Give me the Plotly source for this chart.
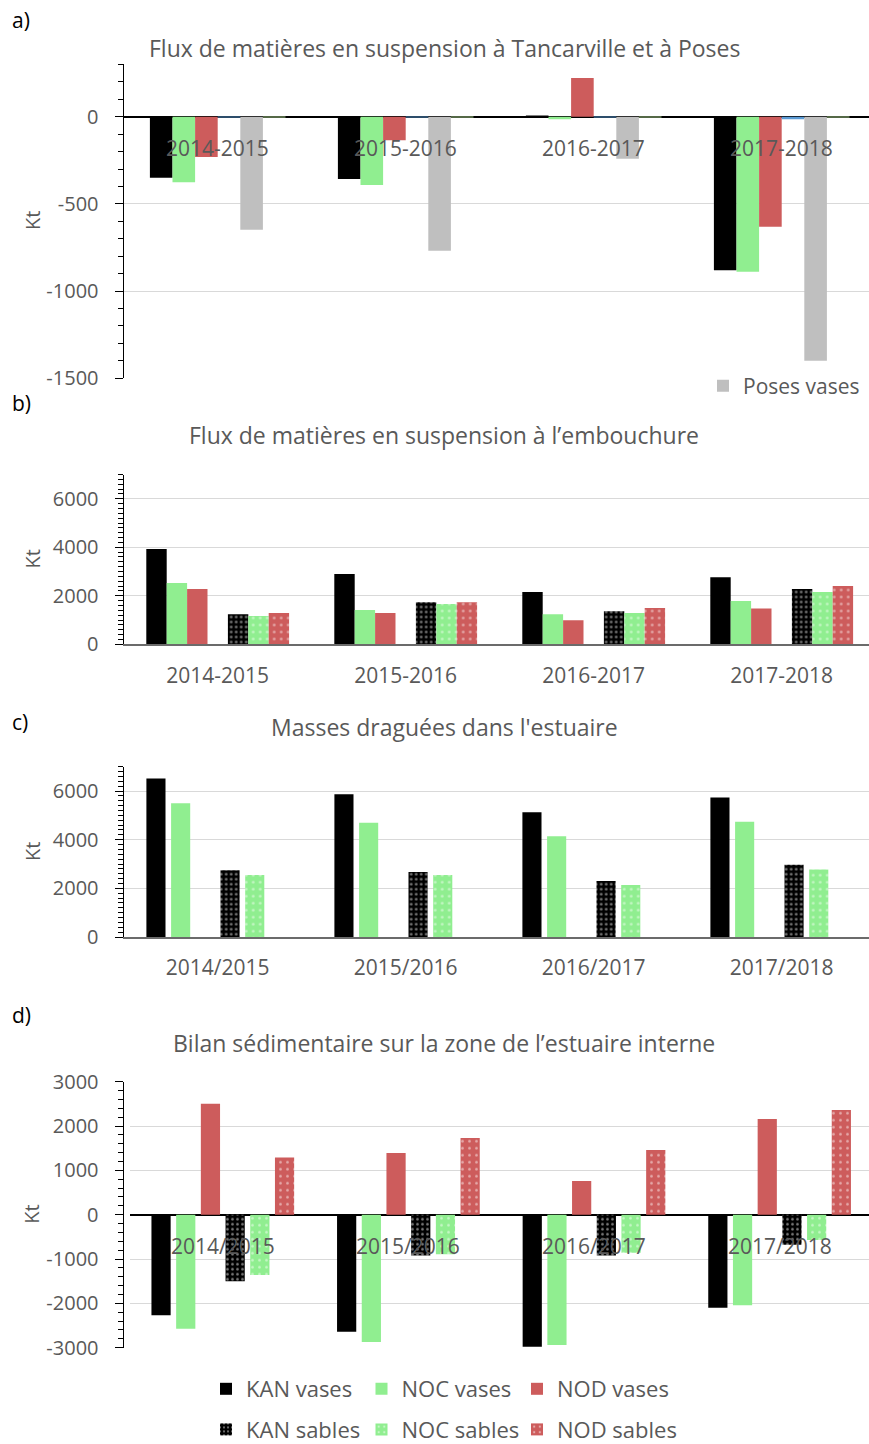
import plotly.graph_objects as go

W, H = 869, 1444
FONT = "Open Sans"
GREY_TXT = "#595959"

# ---------------- data (kt) ----------------
periods_dash = ["2014-2015", "2015-2016", "2016-2017", "2017-2018"]
periods_slash = ["2014/2015", "2015/2016", "2016/2017", "2017/2018"]

# a) Flux de MES à Tancarville et à Poses
a_kan_vases = [-350, -357, 4, -881]
a_noc_vases = [-376, -392, -15, -889]
a_nod_vases = [-231, -135, 222, -631]
a_serie4 = [-3, -3, -3, -15]
a_poses_vases = [-648, -768, -241, -1399]
a_serie6 = [-3, -3, -3, -3]
a_tickvals = [-1500, -1000, -500, 0]
a_ticktext = ["-1500", "-1000", "-500", "0"]

# b) Flux de MES à l'embouchure
b_kan_vases = [3930, 2900, 2160, 2760]
b_noc_vases = [2530, 1410, 1240, 1790]
b_nod_vases = [2280, 1290, 990, 1480]
b_kan_sables = [1240, 1730, 1360, 2280]
b_noc_sables = [1170, 1660, 1290, 2160]
b_nod_sables = [1290, 1730, 1500, 2400]

# c) Masses draguées
c_kan_vases = [6520, 5870, 5130, 5730]
c_noc_vases = [5500, 4700, 4140, 4740]
c_kan_sables = [2740, 2670, 2300, 2970]
c_noc_sables = [2550, 2550, 2140, 2770]

# d) Bilan sédimentaire estuaire interne
d_kan_vases = [-2270, -2640, -2980, -2100]
d_noc_vases = [-2570, -2870, -2940, -2040]
d_nod_vases = [2500, 1390, 760, 2160]
d_kan_sables = [-1500, -920, -920, -680]
d_noc_sables = [-1360, -890, -860, -570]
d_nod_sables = [1290, 1730, 1460, 2360]
d_tickvals = [-3000, -2000, -1000, 0, 1000, 2000, 3000]
d_ticktext = ["-3000", "-2000", "-1000", "0", "1000", "2000", "3000"]

# ---------------- styles ----------------
C_KAN = "#000000"
C_NOC = "#90EE90"
C_NOD = "#CD5C5C"
C_POSES = "#BFBFBF"
C_S4 = "#5B9BD5"
C_S6 = "#A9D18E"

PAT_KAN = (5, 0.22)
PAT_LIGHT = (7, 0.12)


def py(px):
    """pixel row -> paper fraction"""
    return 1 - px / H


def px_x(px):
    return px / W


def bar(xa, ya, cats, vals, name, color, slot, nslots, pitch, width,
        pattern=None, legend="legend", showlegend=False):
    offset = -nslots * pitch / 2 + slot * pitch + (pitch - width) / 2
    marker = dict(color=color, line=dict(width=0))
    if pattern:
        marker["pattern"] = dict(shape=".", fgcolor="white", fillmode="overlay",
                                 size=pattern[0], solidity=pattern[1])
    return go.Bar(x=cats, y=vals, name=name, xaxis=xa, yaxis=ya,
                  offset=offset, width=width, marker=marker,
                  showlegend=showlegend, legend=legend,
                  legendgroup=(name if showlegend else None), hoverinfo="skip")


fig = go.Figure()

# panel a: 6 slots, no gaps
pa = 22.6 / 188
for i, (vals, name, col) in enumerate([
        (a_kan_vases, "KAN vases", C_KAN), (a_noc_vases, "NOC vases", C_NOC),
        (a_nod_vases, "NOD vases", C_NOD), (a_serie4, "Série 4", C_S4),
        (a_poses_vases, "Poses vases", C_POSES), (a_serie6, "Série 6", C_S6)]):
    fig.add_trace(bar("x", "y", periods_dash, vals, name, col, i, 6, pa, pa,
                      legend="legend3", showlegend=(name == "Poses vases")))

# panel b: 7 slots (4th empty), no gaps
pb = 20.4 / 188
for i, vals, name, col, pat in [
        (0, b_kan_vases, "KAN vases", C_KAN, None),
        (1, b_noc_vases, "NOC vases", C_NOC, None),
        (2, b_nod_vases, "NOD vases", C_NOD, None),
        (4, b_kan_sables, "KAN sables", C_KAN, PAT_KAN),
        (5, b_noc_sables, "NOC sables", C_NOC, PAT_LIGHT),
        (6, b_nod_sables, "NOD sables", C_NOD, PAT_LIGHT)]:
    fig.add_trace(bar("x2", "y2", periods_dash, vals, name, col, i, 7, pb, pb, pattern=pat))

# panel c: 6 slots with gaps (NOD slots empty)
pc, wc = 24.7 / 188, 19.1 / 188
for i, vals, name, col, pat in [
        (0, c_kan_vases, "KAN vases", C_KAN, None),
        (1, c_noc_vases, "NOC vases", C_NOC, None),
        (3, c_kan_sables, "KAN sables", C_KAN, PAT_KAN),
        (4, c_noc_sables, "NOC sables", C_NOC, PAT_LIGHT)]:
    fig.add_trace(bar("x3", "y3", periods_slash, vals, name, col, i, 6, pc, wc, pattern=pat))

# panel d: 6 slots with gaps, carries the shared legend (one column per station)
pd_, wd = 24.7 / 185.6, 19.2 / 185.6
for i, vals, name, col, pat, leg in [
        (0, d_kan_vases, "KAN vases", C_KAN, None, "legend"),
        (1, d_noc_vases, "NOC vases", C_NOC, None, "legend2"),
        (2, d_nod_vases, "NOD vases", C_NOD, None, "legend4"),
        (3, d_kan_sables, "KAN sables", C_KAN, PAT_KAN, "legend"),
        (4, d_noc_sables, "NOC sables", C_NOC, PAT_LIGHT, "legend2"),
        (5, d_nod_sables, "NOD sables", C_NOD, PAT_LIGHT, "legend4")]:
    fig.add_trace(bar("x4", "y4", periods_slash, vals, name, col, i, 6, pd_, wd,
                      pattern=pat, legend=leg, showlegend=True))

# ---------------- axes ----------------
tickfont = dict(family=FONT, size=20, color=GREY_TXT)
xtickfont = dict(family=FONT, size=21, color=GREY_TXT)


def yaxis(top_px, bot_px, rng, dtick, minor_dtick, zero, tickvals=None, ticktext=None):
    ax = dict(
        domain=[py(bot_px), py(top_px)], range=rng, dtick=dtick, tick0=0,
        ticks="outside", ticklen=8, tickwidth=1.3, tickcolor="black",
        showline=True, linecolor="black", linewidth=1.3,
        showgrid=True, gridcolor="#D9D9D9", gridwidth=1.3,
        zeroline=zero, zerolinecolor="black", zerolinewidth=1.6,
        minor=dict(dtick=minor_dtick, tick0=0, ticks="outside", ticklen=5,
                   tickwidth=1, tickcolor="black", showgrid=False),
        tickfont=tickfont, ticklabelstandoff=12, fixedrange=True, automargin=False,
    )
    if tickvals is not None:
        ax.update(tickmode="array", tickvals=tickvals, ticktext=ticktext)
    return ax


def xaxis(anchor, x0_px, cw, labels):
    return dict(
        anchor=anchor, domain=[px_x(x0_px), 1], type="category",
        range=[-0.5, -0.5 + (W - x0_px) / cw], showgrid=False, zeroline=False,
        showticklabels=labels, ticks="", tickfont=xtickfont, fixedrange=True,
        showline=labels, linecolor="#6B6B6B", linewidth=2.2, ticklabelstandoff=11,
        automargin=False,
    )


fig.update_layout(
    xaxis=xaxis("y", 123.7, 188, False),
    yaxis=yaxis(64.4, 378.3, [-1500, 300], 500, 100, True, a_tickvals, a_ticktext),
    xaxis2=xaxis("y2", 123.7, 188, True),
    yaxis2=yaxis(474.5, 644.3, [0, 7000], 2000, 200, False),
    xaxis3=xaxis("y3", 123.7, 188, True),
    yaxis3=yaxis(766.7, 937, [0, 7000], 2000, 200, False),
    xaxis4=xaxis("y4", 130, 185.6, False),
    yaxis4=yaxis(1081.7, 1347.7, [-3000, 3000], 1000, 200, True, d_tickvals, d_ticktext),
)

# ---------------- text ----------------
ann = []
# category labels sitting under the zero line (panels a and d)
for cat in periods_dash:
    ann.append(dict(x=cat, y=0, xref="x", yref="y", yshift=-31, text=cat,
                    showarrow=False, font=xtickfont, yanchor="middle"))
for cat in periods_slash:
    ann.append(dict(x=cat, y=0, xref="x4", yref="y4", yshift=-31, text=cat,
                    showarrow=False, font=xtickfont, yanchor="middle"))

titles = [
    (48, "Flux de matières en suspension à Tancarville et à Poses"),
    (435, "Flux de matières en suspension à l’embouchure"),
    (727, "Masses draguées dans l'estuaire"),
    (1043, "Bilan sédimentaire sur la zone de l’estuaire interne"),
]
for ypx, txt in titles:
    ann.append(dict(x=444 / W, y=py(ypx), xref="paper", yref="paper", text=txt,
                    showarrow=False, xanchor="center", yanchor="middle",
                    font=dict(family=FONT, size=23, color=GREY_TXT)))

for ypx, txt in [(20, "a)"), (403, "b)"), (722, "c)"), (1015, "d)")]:
    ann.append(dict(x=10 / W, y=py(ypx), xref="paper", yref="paper", text=txt,
                    showarrow=False, xanchor="left", yanchor="middle",
                    font=dict(family=FONT, size=21, color="black")))

for ypx in [221, 559.5, 852, 1214.7]:
    ann.append(dict(x=32 / W, y=py(ypx), xref="paper", yref="paper", text="Kt",
                    textangle=-90, showarrow=False, xanchor="center", yanchor="middle",
                    font=dict(family=FONT, size=20, color=GREY_TXT)))

legfont = dict(family=FONT, size=22, color=GREY_TXT)


def col_legend(x_px):
    return dict(orientation="v", x=x_px / W, y=py(1368), xanchor="left", yanchor="top",
                font=legfont, bgcolor="rgba(0,0,0,0)", traceorder="grouped",
                tracegroupgap=9, itemclick=False, itemdoubleclick=False)


fig.update_layout(
    annotations=ann,
    width=W, height=H,
    margin=dict(l=0, r=0, t=0, b=0, autoexpand=False),
    paper_bgcolor="white", plot_bgcolor="white",
    barmode="overlay",
    font=dict(family=FONT, color=GREY_TXT),
    legend=col_legend(206),
    legend2=col_legend(361.5),
    legend4=col_legend(517),
    legend3=dict(orientation="h", x=703 / W, y=py(386), xanchor="left", yanchor="middle",
                 font=dict(family=FONT, size=21, color=GREY_TXT),
                 bgcolor="rgba(0,0,0,0)", itemclick=False, itemdoubleclick=False),
    showlegend=True,
)

fig.write_html("out.html", config=dict(displayModeBar=False))
